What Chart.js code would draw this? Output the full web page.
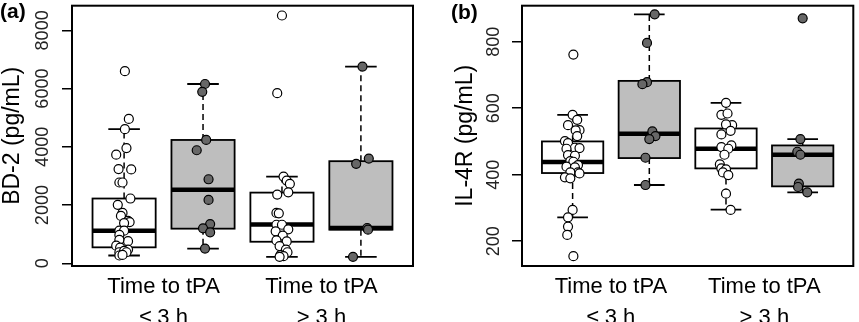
<!DOCTYPE html>
<html>
<head>
<meta charset="utf-8">
<script src="https://cdn.jsdelivr.net/npm/chart.js@4.4.0/dist/chart.umd.min.js"></script>
<style>
html, body { margin: 0; padding: 0; background: #fff; }
#wrap { position: relative; width: 859px; height: 322px; overflow: hidden; }
canvas { position: absolute; top: 0; }
</style>
</head>
<body>
<div id="wrap">
  <canvas id="chartA" width="429" height="322" style="left:0"></canvas>
  <canvas id="chartB" width="430" height="322" style="left:429px"></canvas>
</div>
<script>
// categories
const groupLabels = [['Time to tPA', '≤ 3 h'], ['Time to tPA', '> 3 h']];
const groupPos = [1.5, 3.5];
const boxPos = [1, 2, 3, 4];

// (a) BD-2, pg/mL
const bd2Ticks = [0, 2000, 4000, 6000, 8000];
const bd2Le3White = [6598, 4958, 4608, 3730, 3957, 3238, 3224, 2776, 2776, 2226, 2011, 1730, 1629, 1460, 1416, 1382, 1123, 1123, 977, 762, 808, 607, 540, 472, 381, 425, 381, 270, 290];
const bd2Le3WhiteJit = [0.01, 0.06, 0.01, -0.10, 0.03, -0.07, 0.09, -0.06, -0.02, 0.08, -0.08, -0.02, -0.04, 0.05, 0.07, 0.0, -0.06, 0.0, -0.06, 0.05, -0.06, -0.10, -0.05, 0.05, -0.06, 0.0, 0.03, -0.06, -0.02];
const bd2Le3Gray = [6159, 5889, 4237, 3884, 2887, 2179, 1349, 1201, 1066, 506];
const bd2Le3GrayJit = [0.025, -0.01, 0.04, -0.08, 0.07, 0.07, 0.09, 0.0, 0.09, 0.025];
const bd2Gt3White = [8510, 5845, 2978, 2843, 2732, 2439, 2361, 1730, 1719, 1326, 1326, 1167, 1100, 955, 786, 752, 594, 472, 381, 280, 246, 223];
const bd2Gt3WhiteJit = [0.0, -0.06, 0.02, 0.06, 0.10, 0.08, -0.06, -0.07, -0.04, -0.07, 0.0, 0.08, -0.08, 0.01, -0.07, 0.06, -0.03, 0.05, 0.07, -0.02, 0.02, -0.03];
const bd2Gt3Gray = [6756, 3596, 3417, 1214, 1157, 223];
const bd2Gt3GrayJit = [0.02, 0.10, -0.06, 0.08, 0.09, -0.10];
// [lower whisker, Q1, median, Q3, upper whisker]
const bd2Stats = [[270, 550, 1123, 2226, 4608], [506, 1191, 2530, 4237, 6159], [223, 742, 1336, 2429, 2978], [223, 1157, 1214, 3508, 6756]];

// (b) IL-4R, pg/mL
const il4rTicks = [200, 400, 600, 800];
const il4rLe3White = [761, 580, 565, 549, 534, 533, 516, 501, 495, 481, 480, 478, 459, 457, 441, 439, 429, 424, 422, 407, 407, 392, 389, 404, 294, 272, 244, 219, 155];
const il4rLe3WhiteJit = [0.01, 0.0, 0.06, -0.06, 0.09, 0.04, 0.06, -0.10, -0.06, 0.03, 0.09, -0.08, -0.06, 0.03, -0.03, 0.01, 0.07, -0.08, 0.03, 0.07, -0.03, -0.10, -0.03, 0.09, 0.0, -0.06, -0.06, -0.07, 0.01];
const il4rLe3Gray = [882, 796, 678, 672, 530, 516, 507, 451, 369];
const il4rLe3GrayJit = [0.07, -0.03, -0.03, -0.09, 0.04, 0.08, 0.0, -0.05, -0.05];
const il4rGt3White = [616, 580, 584, 549, 551, 532, 521, 488, 483, 478, 460, 431, 419, 416, 407, 399, 343, 294];
const il4rGt3WhiteJit = [0.0, -0.06, 0.02, 0.08, 0.0, 0.06, -0.06, 0.07, -0.06, 0.03, -0.02, -0.08, -0.06, 0.0, -0.04, 0.03, 0.0, 0.06];
const il4rGt3Gray = [870, 507, 469, 460, 373, 363, 347];
const il4rGt3GrayJit = [0.0, -0.03, -0.07, -0.03, -0.05, -0.06, 0.06];
const il4rStats = [[272, 405, 438, 500, 580], [369, 450, 523, 682, 882], [295, 419, 478, 539, 616], [347, 365, 460, 488, 507]];

const FONT = '"Liberation Sans", Arial, Helvetica, sans-serif';
Chart.defaults.font.family = FONT;
const boxFill = ['#ffffff', '#bebebe', '#ffffff', '#bebebe'];
const dotFill = ['#ffffff', '#676767', '#ffffff', '#676767'];

function dots(values, jit, k) {
  return {
    data: values.map((v, i) => ({x: boxPos[k] + jit[i], y: v})),
    pointRadius: 4.5,
    pointHoverRadius: 4.5,
    pointBackgroundColor: dotFill[k],
    pointBorderColor: '#000',
    pointBorderWidth: 1.2
  };
}

// R-style boxes drawn with the chart's own scales
function boxPlugin(stats, letter) {
  return {
    id: 'rbox',
    beforeDatasetsDraw(chart) {
      const {ctx, scales: {x, y}} = chart;
      ctx.save();
      ctx.strokeStyle = '#000';
      stats.forEach((s, i) => {
        const p = boxPos[i];
        const xl = x.getPixelForValue(p - 0.4), xr = x.getPixelForValue(p + 0.4);
        const cl = x.getPixelForValue(p - 0.2), cr = x.getPixelForValue(p + 0.2);
        const xc = x.getPixelForValue(p);
        const [lo, q1, med, q3, hi] = s.map(v => y.getPixelForValue(v));
        ctx.lineWidth = 1.5;
        ctx.setLineDash([6, 4]);
        ctx.beginPath();
        ctx.moveTo(xc, q3); ctx.lineTo(xc, hi);
        ctx.moveTo(xc, q1); ctx.lineTo(xc, lo);
        ctx.stroke();
        ctx.setLineDash([]);
        ctx.lineWidth = 1.8;
        ctx.beginPath();
        ctx.moveTo(cl, hi); ctx.lineTo(cr, hi);
        ctx.moveTo(cl, lo); ctx.lineTo(cr, lo);
        ctx.stroke();
        ctx.fillStyle = boxFill[i];
        ctx.fillRect(xl, q3, xr - xl, q1 - q3);
        ctx.strokeRect(xl, q3, xr - xl, q1 - q3);
        ctx.lineWidth = 4.5;
        ctx.beginPath();
        ctx.moveTo(xl, med); ctx.lineTo(xr, med);
        ctx.stroke();
      });
      ctx.restore();
    },
    afterDraw(chart) {
      const {ctx, chartArea: a} = chart;
      ctx.save();
      ctx.strokeStyle = '#000';
      ctx.lineWidth = 2;
      ctx.strokeRect(a.left, a.top, a.right - a.left, a.bottom - a.top);
      ctx.fillStyle = '#000';
      ctx.font = 'bold 21px ' + FONT;
      ctx.textBaseline = 'alphabetic';
      ctx.fillText(letter.text, letter.x, letter.y);
      ctx.restore();
    }
  };
}

function makeChart(id, sets, stats, ticks, yTitle, opt) {
  return new Chart(document.getElementById(id), {
    type: 'scatter',
    data: {datasets: sets},
    plugins: [boxPlugin(stats, opt.letter)],
    options: {
      responsive: false,
      animation: false,
      events: [],
      layout: {padding: {left: 0, right: opt.right, top: 1, bottom: 0}},
      plugins: {legend: {display: false}, tooltip: {enabled: false}},
      scales: {
        x: {
          type: 'linear', min: 0.34, max: 4.66,
          afterBuildTicks: s => { s.ticks = groupPos.map(v => ({value: v})); },
          afterFit: s => { s.height = 56; s.paddingLeft = 0; s.paddingRight = 0; },
          grid: {display: false, drawTicks: false},
          border: {display: false},
          ticks: {
            callback: (v, i) => groupLabels[i],
            color: '#000', autoSkip: false, maxRotation: 0, padding: 5,
            font: {size: 22, lineHeight: 1.41}
          }
        },
        y: {
          min: opt.min, max: opt.max,
          afterBuildTicks: s => { s.ticks = ticks.map(v => ({value: v})); },
          afterFit: s => { s.width = opt.axisW; s.paddingTop = 0; s.paddingBottom = 0; },
          grid: {drawOnChartArea: false, drawTicks: true, tickLength: 10, color: '#000', lineWidth: 1.5},
          border: {display: false},
          ticks: {
            callback: v => String(v),
            minRotation: 90, maxRotation: 90, crossAlign: 'center',
            padding: opt.tickPad, color: '#222', autoSkip: false,
            font: {size: 18}
          },
          title: {display: true, text: yTitle, color: '#000', font: {size: 23}, padding: {top: opt.titlePad, bottom: 0}}
        }
      }
    }
  });
}

makeChart('chartA', [
  dots(bd2Le3White, bd2Le3WhiteJit, 0),
  dots(bd2Le3Gray, bd2Le3GrayJit, 1),
  dots(bd2Gt3White, bd2Gt3WhiteJit, 2),
  dots(bd2Gt3Gray, bd2Gt3GrayJit, 3)
], bd2Stats, bd2Ticks, 'BD-2 (pg/mL)', {
  min: -91, max: 8847, right: 16, axisW: 72, tickPad: -1, titlePad: -1,
  letter: {text: '(a)', x: 0, y: 18}
});

makeChart('chartB', [
  dots(il4rLe3White, il4rLe3WhiteJit, 0),
  dots(il4rLe3Gray, il4rLe3GrayJit, 1),
  dots(il4rGt3White, il4rGt3WhiteJit, 2),
  dots(il4rGt3Gray, il4rGt3GrayJit, 3)
], il4rStats, il4rTicks, 'IL-4R (pg/mL)', {
  min: 125.6, max: 908, right: 2, axisW: 93, tickPad: 3, titlePad: 23,
  letter: {text: '(b)', x: 22, y: 19}
});
</script>
</body>
</html>
